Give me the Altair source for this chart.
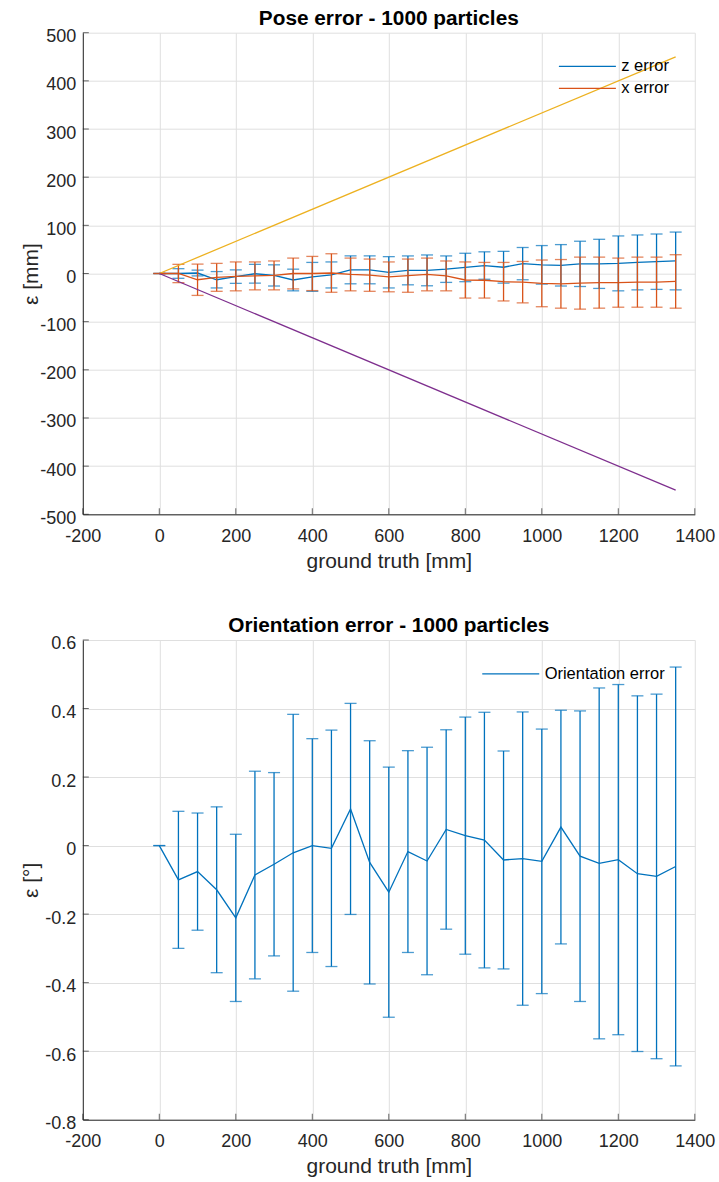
import altair as alt
import pandas as pd

# ---------------- data ----------------
gt = [0, 50, 100, 150, 200, 250, 300, 350, 400, 450, 500, 550, 600, 650,
      700, 750, 800, 850, 900, 950, 1000, 1050, 1100, 1150, 1200, 1250, 1300, 1350]

z_mean = [0, 0, 1, -13, -6.5, -0.5, -4, -13.5, -7, -3, 7.6, 7.6, 2.5, 6.5,
          6.5, 9, 12.5, 16.5, 13, 20.5, 18, 17, 20, 20, 21, 23, 24.5, 26]
z_err = [0, 10, 6, 17, 14, 19.5, 22, 22.5, 30, 27, 29, 29, 32.5, 30,
         32, 27.5, 29.5, 28.5, 33, 33.5, 40, 43, 47, 51, 57, 57, 57.5, 60]

x_mean = [0, 0, -13, -8, -6, -5, -4, 0, 0, 1, -2, -3.5, -7, -4.5,
          -2, -5, -13.5, -14, -17, -18, -20.5, -21.5, -20, -19, -19, -18, -18, -16.5]
x_err = [0, 19, 32.5, 29, 30, 29, 30, 32, 35.5, 40, 34, 33.5, 31, 34.5,
         34, 31, 37.5, 37, 40, 43, 48.5, 50.5, 54, 53, 51, 52, 52, 55.5]

ref_gt = [0, 1350]
upper_ref = [0, 450]
lower_ref = [0, -450]

ori_mean = [0, -0.1, -0.076, -0.129, -0.211, -0.086, -0.0545, -0.021, 0.0, -0.008,
            0.107, -0.049, -0.136, -0.0175, -0.045, 0.047, 0.029, 0.016, -0.042,
            -0.038, -0.046, 0.054, -0.031, -0.052, -0.041, -0.082, -0.09, -0.061]
ori_err = [0, 0.2, 0.171, 0.242, 0.244, 0.303, 0.2675, 0.404, 0.312, 0.345,
           0.308, 0.355, 0.365, 0.2945, 0.332, 0.291, 0.346, 0.373, 0.318,
           0.428, 0.386, 0.341, 0.424, 0.512, 0.511, 0.519, 0.532, 0.582]

x_ticks = [-200, 0, 200, 400, 600, 800, 1000, 1200, 1400]
pose_ticks = [-500, -400, -300, -200, -100, 0, 100, 200, 300, 400, 500]
ori_ticks = [-0.8, -0.6, -0.4, -0.2, 0, 0.2, 0.4, 0.6]

# ---------------- style ----------------
BLUE = "#0072BD"
ORANGE = "#D95319"
YELLOW = "#EDB120"
PURPLE = "#7E2F8E"
AX = "#262626"
GRID = "#DFDFDF"
FONT = "Liberation Sans"
W = 612
H1 = 481.6
H2 = 479.7
LW = 1.3


def err_frame(mean, err, name):
    return pd.DataFrame({
        "gt": gt,
        "mean": mean,
        "lo": [m - e for m, e in zip(mean, err)],
        "hi": [m + e for m, e in zip(mean, err)],
        "series": name,
    })


def x_axis():
    return alt.Axis(values=x_ticks, title="ground truth [mm]",
                    labelPadding=27, labelBaseline="alphabetic",
                    titleX=W / 2, titleY=53, titleBaseline="alphabetic",
                    titleAlign="center")


def y_axis(values, title, h):
    return alt.Axis(values=values, title=title, labelPadding=7,
                    labelAlign="right", labelBaseline="alphabetic", labelOffset=9,
                    titleAngle=270, titleX=-45, titleY=h / 2,
                    titleBaseline="alphabetic", titleAlign="center")


def errorbar_layers(df, color, xs, ys, domain, rng, legend):
    rule = alt.Chart(df).mark_rule(color=color, strokeWidth=LW).encode(
        x=alt.X("gt:Q", scale=xs),
        y=alt.Y("lo:Q", scale=ys),
        y2="hi:Q",
    )
    cap_lo = alt.Chart(df).mark_tick(orient="horizontal", size=12, thickness=LW,
                                     color=color).encode(
        x=alt.X("gt:Q", scale=xs),
        y=alt.Y("lo:Q", scale=ys),
    )
    cap_hi = alt.Chart(df).mark_tick(orient="horizontal", size=12, thickness=LW,
                                     color=color).encode(
        x=alt.X("gt:Q", scale=xs),
        y=alt.Y("hi:Q", scale=ys),
    )
    line = alt.Chart(df).mark_line(strokeWidth=LW).encode(
        x=alt.X("gt:Q", scale=xs),
        y=alt.Y("mean:Q", scale=ys),
        color=alt.Color("series:N", scale=alt.Scale(domain=domain, range=rng),
                        legend=legend),
    )
    return [rule, cap_lo, cap_hi, line]


def legend(lx, ly):
    return alt.Legend(title=None, orient="none", legendX=lx, legendY=ly,
                      symbolType="M-5.7,0H5.7", symbolSize=100,
                      symbolStrokeWidth=LW, labelFont=FONT, labelFontSize=16.5,
                      labelColor="black", labelOffset=25.65, rowPadding=5,
                      padding=0, symbolOffset=0)


def inward_ticks(xs, ys, yvals):
    tx = pd.DataFrame({"gt": x_ticks, "v": [yvals[0]] * len(x_ticks)})
    ty = pd.DataFrame({"gt": [x_ticks[0]] * len(yvals), "v": yvals})
    a = alt.Chart(tx).mark_tick(orient="vertical", size=6, thickness=1,
                                color=AX, yOffset=-3).encode(
        x=alt.X("gt:Q", scale=xs),
        y=alt.Y("v:Q", scale=ys),
    )
    b = alt.Chart(ty).mark_tick(orient="horizontal", size=6, thickness=1,
                                color=AX, xOffset=3).encode(
        x=alt.X("gt:Q", scale=xs),
        y=alt.Y("v:Q", scale=ys),
    )
    return [a, b]


def title(text):
    return alt.Title(text, font=FONT, fontSize=20.8, fontWeight="bold",
                     color="black", anchor="middle", offset=-18,
                     baseline="alphabetic")


xs = alt.Scale(domain=[x_ticks[0], x_ticks[-1]], nice=False, zero=False)

# ---------------- top chart ----------------
ys1 = alt.Scale(domain=[pose_ticks[0], pose_ticks[-1]], nice=False, zero=False)
pose_domain = ["z error", "x error"]
pose_range = [BLUE, ORANGE]

ref_df = pd.DataFrame({"gt": ref_gt, "up": upper_ref, "down": lower_ref})
axes1 = alt.Chart(ref_df).mark_point(opacity=0).encode(
    x=alt.X("gt:Q", scale=xs, axis=x_axis()),
    y=alt.Y("up:Q", scale=ys1, axis=y_axis(pose_ticks, "ε [mm]", H1)),
)
yellow = alt.Chart(ref_df).mark_line(color=YELLOW, strokeWidth=LW).encode(
    x=alt.X("gt:Q", scale=xs),
    y=alt.Y("up:Q", scale=ys1),
)
purple = alt.Chart(ref_df).mark_line(color=PURPLE, strokeWidth=LW).encode(
    x=alt.X("gt:Q", scale=xs),
    y=alt.Y("down:Q", scale=ys1),
)

z_layers = errorbar_layers(err_frame(z_mean, z_err, "z error"), BLUE, xs, ys1,
                           pose_domain, pose_range, legend(496.35, 25.5))
x_layers = errorbar_layers(err_frame(x_mean, x_err, "x error"), ORANGE, xs, ys1,
                           pose_domain, pose_range, legend(496.35, 25.5))

top = alt.layer(axes1, *z_layers, *x_layers, yellow, purple,
                *inward_ticks(xs, ys1, pose_ticks)).properties(
    width=W, height=H1, title=title("Pose error - 1000 particles"))

# ---------------- bottom chart ----------------
ys2 = alt.Scale(domain=[ori_ticks[0], ori_ticks[-1]], nice=False, zero=False)
ori_df = err_frame(ori_mean, ori_err, "Orientation error")
axes2 = alt.Chart(ori_df).mark_point(opacity=0).encode(
    x=alt.X("gt:Q", scale=xs, axis=x_axis()),
    y=alt.Y("mean:Q", scale=ys2, axis=y_axis(ori_ticks, "ε [°]", H2)),
)
o_layers = errorbar_layers(ori_df, BLUE, xs, ys2, ["Orientation error"], [BLUE],
                           legend(419.7, 25.7))

bottom = alt.layer(axes2, *o_layers, *inward_ticks(xs, ys2, ori_ticks)).properties(
    width=W, height=H2, title=title("Orientation error - 1000 particles"))

chart = alt.vconcat(top, bottom, spacing=125.3, bounds="flush").resolve_scale(
    color="independent").resolve_legend(color="independent").properties(
    padding={"left": 19.8, "top": 6.7, "right": 0, "bottom": 0},
    background="white",
).configure_view(stroke="transparent").configure_axis(
    grid=True, gridColor=GRID, gridWidth=1, domainColor=AX, domainWidth=1,
    ticks=False, tickSize=0, labelFont=FONT, labelFontSize=18, labelColor=AX,
    labelExpr="toString(datum.value)", labelFlush=False, labelOverlap=False,
    titleFont=FONT, titleFontSize=21, titleFontWeight="normal", titleColor=AX,
)

chart.save("out.html", embed_options={"renderer": "svg", "actions": False})
